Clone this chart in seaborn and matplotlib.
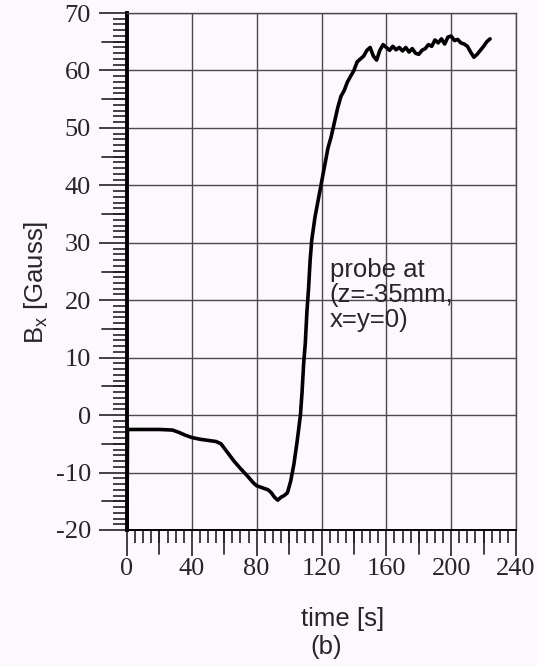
import matplotlib
matplotlib.use("Agg")
import matplotlib.pyplot as plt
import seaborn as sns
import pandas as pd
from matplotlib.ticker import MultipleLocator

# ---- data ----
time_s = [0, 0.3, 5, 10, 20, 28, 32, 36, 40, 45, 50, 55, 58, 62, 66, 70, 74, 78, 80,
          84, 87, 89, 91, 93, 95, 97, 99, 101, 103, 105, 107, 108, 109, 110, 111, 112,
          113, 114, 116, 118, 120, 122, 124, 126, 128, 130, 132, 134, 136, 138, 140,
          142, 144, 146, 148, 150, 152, 154, 156, 158, 160, 162, 164, 166, 168, 170,
          172, 174, 176, 178, 180, 182, 184, 186, 188, 190, 192, 194, 196, 198, 200,
          202, 204, 206, 208, 210, 212, 214, 216, 218, 220, 222, 224]
bx_gauss = [-20, -2.5, -2.5, -2.5, -2.5, -2.6, -3.0, -3.5, -3.9, -4.2, -4.4, -4.6, -5.0,
            -6.5, -8.0, -9.3, -10.5, -11.8, -12.3, -12.7, -13.0, -13.5, -14.3, -14.8,
            -14.3, -14.0, -13.5, -11.5, -8.5, -4.5, 0.0, 4.0, 9.0, 12.5, 18.0, 22.0,
            27.0, 30.5, 34.5, 37.5, 40.5, 43.5, 46.5, 48.5, 51.0, 53.5, 55.5, 56.5,
            58.0, 59.0, 60.0, 61.5, 62.0, 62.5, 63.5, 64.0, 62.5, 61.8, 63.5, 64.5,
            64.0, 63.5, 64.2, 63.6, 64.0, 63.4, 64.0, 63.2, 63.8, 63.0, 62.8, 63.5,
            63.8, 64.5, 64.2, 65.3, 64.8, 65.5, 64.6, 65.8, 66.0, 65.2, 65.4, 64.8,
            64.6, 64.2, 63.2, 62.3, 62.8, 63.5, 64.2, 65.0, 65.5]
x_ticks = [0, 40, 80, 120, 160, 200, 240]
y_ticks = [-20, -10, 0, 10, 20, 30, 40, 50, 60, 70]
annotation = "probe at\n(z=-35mm,\nx=y=0)"

df = pd.DataFrame({"time": time_s, "Bx": bx_gauss})

sns.set_theme(style="white")
bg = "#fdf8fd"
W, H = 537, 667
fig = plt.figure(figsize=(W / 100, H / 100), dpi=100, facecolor=bg)
ax = fig.add_axes([127 / W, 1 - 530 / H, (516 - 127) / W, (530 - 13) / H])
ax.set_facecolor(bg)

sns.lineplot(data=df, x="time", y="Bx", ax=ax, color="black", linewidth=2.6,
             sort=False, estimator=None, zorder=3)

ax.set_xlim(0, 240)
ax.set_ylim(-20, 70)
ax.set_xticks(x_ticks)
ax.set_yticks(y_ticks)
ax.xaxis.set_minor_locator(MultipleLocator(5))
ax.yaxis.set_minor_locator(MultipleLocator(1))

ax.grid(True, which="major", color="#4a4a4a", linewidth=1.0)
ax.set_axisbelow(True)

serif = ["Liberation Serif", "DejaVu Serif"]
ax.set_xticklabels([str(v) for v in x_ticks], fontfamily=serif, fontsize=19)
ax.set_yticklabels([str(v) for v in y_ticks], fontfamily=serif, fontsize=19)

ax.tick_params(axis="x", which="major", direction="out", length=19, width=1.2,
               color="#222222", pad=1, bottom=True)
ax.tick_params(axis="x", which="minor", direction="out", length=9, width=1.2,
               color="#222222", bottom=True)
ax.tick_params(axis="y", which="major", direction="out", length=20, width=1.2,
               color="#222222", pad=6, left=True)
ax.tick_params(axis="y", which="minor", direction="out", length=10, width=1.2,
               color="#222222", left=True)

# long ticks at x every 20 and y every 5
for xv in range(20, 240, 40):
    ax.plot([xv, xv], [0, -0.047], transform=ax.get_xaxis_transform(),
            color="#222222", lw=1.2, clip_on=False)
for yv in range(-15, 70, 10):
    ax.plot([0, -0.065], [yv, yv], transform=ax.get_yaxis_transform(),
            color="#222222", lw=1.2, clip_on=False)

for side in ["top", "right"]:
    ax.spines[side].set_color("#4a4a4a")
    ax.spines[side].set_linewidth(1.0)
ax.spines["left"].set_color("black")
ax.spines["left"].set_linewidth(2.8)
ax.spines["bottom"].set_color("black")
ax.spines["bottom"].set_linewidth(1.4)

ax.set_xlabel("")
ax.set_ylabel("")

sans = ["Liberation Sans", "DejaVu Sans"]
fig.text(36 / W, 1 - 282 / H, r"B$_{\mathregular{x}}$ [Gauss]", rotation=90,
         ha="center", va="center", fontsize=18.5, family=sans)
fig.text(343 / W, 1 - 619 / H, "time [s]", ha="center", va="center",
         fontsize=18.5, family=sans)
fig.text(326 / W, 1 - 647 / H, "(b)", ha="center", va="center",
         fontsize=18.5, family=sans)
ax.text(125, 27.4, annotation, ha="left", va="top", fontsize=18.5,
        family=sans, linespacing=1.05, zorder=4)

fig.savefig("out.png", dpi=100, facecolor=bg)
